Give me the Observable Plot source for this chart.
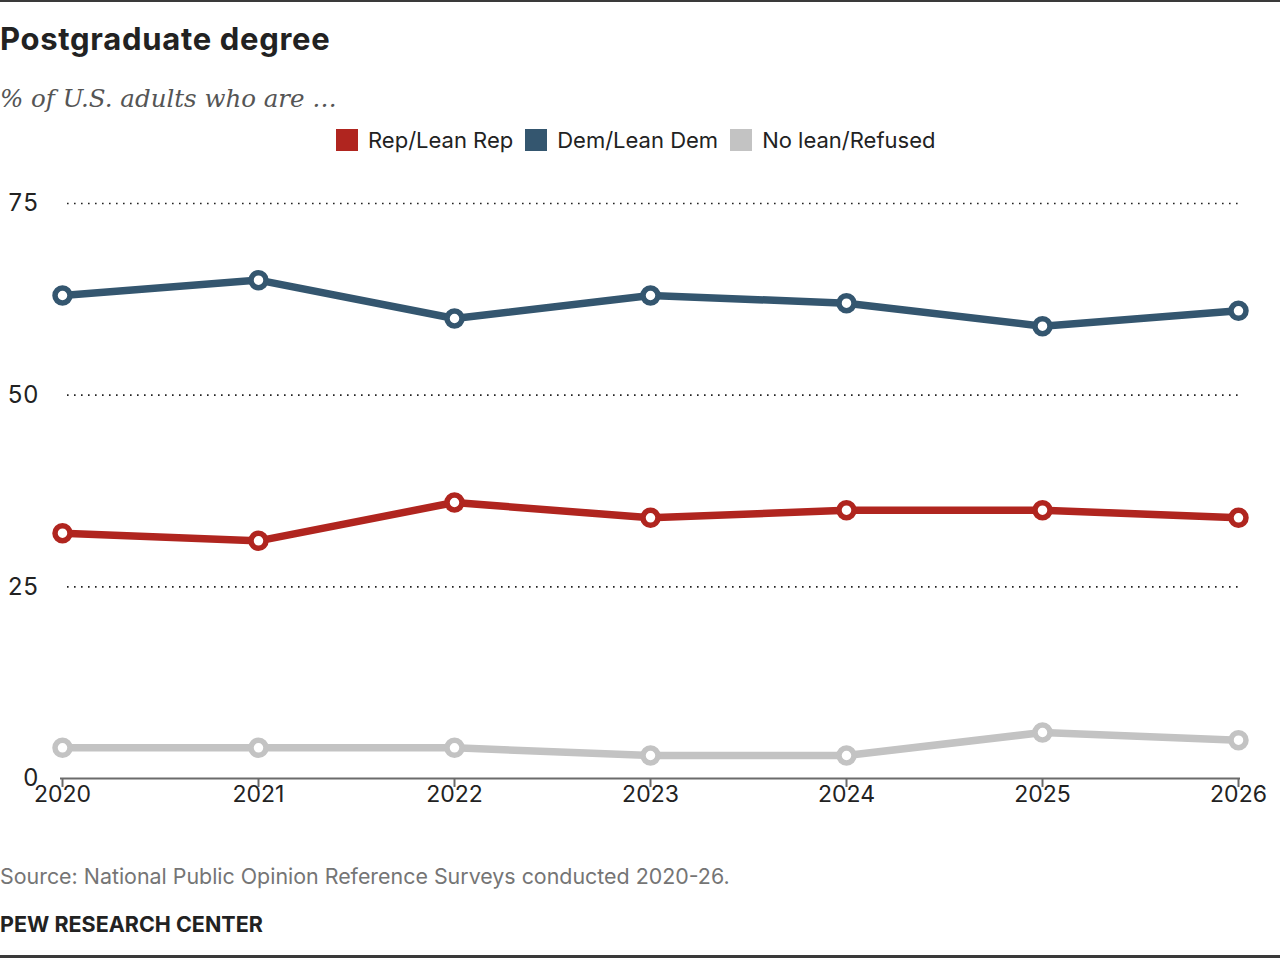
<!DOCTYPE html>
<html>
<head>
<meta charset="utf-8">
<script src="https://cdn.jsdelivr.net/npm/d3@7"></script>
<script src="https://cdn.jsdelivr.net/npm/@observablehq/plot@0.6"></script>
<style>
  html, body { margin: 0; padding: 0; background: #fff; }
  body { width: 1280px; height: 958px; position: relative; overflow: hidden; font-family: Inter, Roboto, sans-serif; color: #222; }
  .rule-top { position: absolute; left: 0; top: 0; width: 1280px; height: 2px; background: #3a3a3a; }
  .rule-bottom { position: absolute; left: 0; top: 955px; width: 1280px; height: 3px; background: #3a3a3a; }
  .title { position: absolute; left: 0; top: 19px; font-weight: 700; font-size: 31px; letter-spacing: 0.7px; line-height: 40px; color: #222; white-space: nowrap; }
  .subtitle { position: absolute; left: 0; top: 84px; font-family: "DejaVu Serif", "Liberation Serif", serif; font-style: italic; font-size: 24.5px; line-height: 30px; color: #555; white-space: nowrap; }
  .legend { position: absolute; left: 336px; top: 125px; display: flex; align-items: center; font-size: 22px; line-height: 30px; color: #222; white-space: nowrap; }
  .legend .item { display: flex; align-items: center; margin-right: 12px; }
  .legend .sw { width: 22px; height: 22px; margin-right: 10px; }
  #chart { position: absolute; left: 0; top: 170px; }
  .source { position: absolute; left: 0; top: 861px; font-size: 21.4px; line-height: 30px; color: #757575; white-space: nowrap; }
  .brand { position: absolute; left: 0; top: 909px; font-size: 21.5px; line-height: 30px; font-weight: 700; color: #222; white-space: nowrap; }
</style>
</head>
<body>
<div class="rule-top"></div>
<div class="title">Postgraduate degree</div>
<div class="subtitle">% of U.S. adults who are …</div>
<div class="legend" id="legend"></div>
<div id="chart"></div>
<div class="source">Source: National Public Opinion Reference Surveys conducted 2020-26.</div>
<div class="brand">PEW RESEARCH CENTER</div>
<div class="rule-bottom"></div>
<script>
// Survey years and share of postgraduate-degree adults by party leaning
const years = ["2020", "2021", "2022", "2023", "2024", "2025", "2026"];
const repLeanRep = [32, 31, 36, 34, 35, 35, 34];
const demLeanDem = [63, 65, 60, 63, 62, 59, 61];
const noLeanRefused = [4, 4, 4, 3, 3, 6, 5];

const seriesNames = ["Rep/Lean Rep", "Dem/Lean Dem", "No lean/Refused"];
const seriesColors = ["#b0251f", "#34566f", "#c3c3c3"];
const yTicks = [0, 25, 50, 75];
const gridTicks = [25, 50, 75];

const seriesValues = [repLeanRep, demLeanDem, noLeanRefused];
const rows = [];
seriesNames.forEach((name, i) => {
  years.forEach((year, j) => rows.push({ series: name, year, value: seriesValues[i][j] }));
});

// Legend
const legend = document.getElementById("legend");
seriesNames.forEach((name, i) => {
  const item = document.createElement("div");
  item.className = "item";
  const sw = document.createElement("span");
  sw.className = "sw";
  sw.style.background = seriesColors[i];
  const label = document.createElement("span");
  label.textContent = name;
  item.append(sw, label);
  legend.append(item);
});

const chart = Plot.plot({
  width: 1280,
  height: 640,
  marginLeft: 60,
  marginRight: 40,
  marginTop: 33,
  marginBottom: 32,
  style: { fontFamily: "Inter, Roboto, sans-serif", fontSize: "24px", color: "#222", background: "transparent" },
  x: { type: "point", domain: years, padding: 0, label: null },
  y: { domain: [0, 75], label: null },
  color: { domain: seriesNames, range: seriesColors },
  marks: [
    Plot.ruleY(gridTicks, { insetLeft: 7, stroke: "#222", strokeWidth: 1.6, strokeDasharray: "1.6,5.4", strokeOpacity: 1 }),
    Plot.axisY(yTicks, { tickSize: 0, tickPadding: 22, fontSize: 24, fill: "#222" }),
    Plot.ruleY([0], { stroke: "#6b6b6b", strokeWidth: 2 }),
    Plot.axisX({ tickSize: 9, tickPadding: -2, fontSize: 23, stroke: "#6b6b6b", strokeWidth: 2, fill: "#222" }),
    Plot.line(rows, { x: "year", y: "value", z: "series", stroke: "series", strokeWidth: 7.5, strokeLinejoin: "round", strokeLinecap: "round" }),
    Plot.dot(rows, { x: "year", y: "value", stroke: "series", fill: "white", r: 7.5, strokeWidth: 5.5 })
  ]
});
document.getElementById("chart").append(chart);
</script>
</body>
</html>
